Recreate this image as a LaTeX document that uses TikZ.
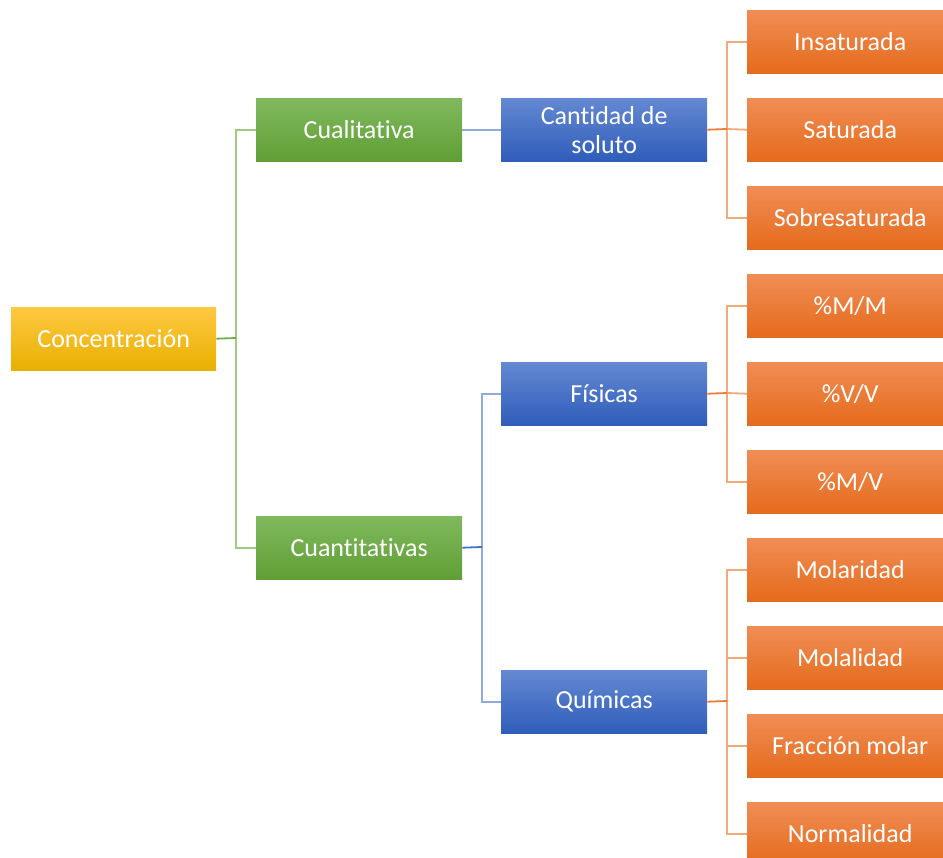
\documentclass[tikz,border=0pt]{standalone}
\usepackage{fontspec}
\setmainfont{Carlito}[Ligatures={NoCommon}]
\definecolor{goldT}{HTML}{FFC843}
\definecolor{goldB}{HTML}{E8B000}
\definecolor{greenT}{HTML}{80B95E}
\definecolor{greenB}{HTML}{609F35}
\definecolor{blueT}{HTML}{6489D2}
\definecolor{blueB}{HTML}{2F5DBA}
\definecolor{orT}{HTML}{F08D55}
\definecolor{orB}{HTML}{E56B1C}
\definecolor{greenL}{HTML}{70AD47}
\definecolor{greenLL}{HTML}{9DCB80}
\definecolor{blueL}{HTML}{4472C4}
\definecolor{blueLL}{HTML}{8FAADC}
\definecolor{orL}{HTML}{ED7D31}
\definecolor{orLL}{HTML}{F4A97A}
\tikzset{
  box/.style={minimum width=206pt, minimum height=63pt, inner sep=2pt, text=white,
    font=\fontsize{26}{29}\selectfont, align=center, anchor=north west},
  goldbox/.style={box, top color=goldT, bottom color=goldB},
  greenbox/.style={box, top color=greenT, bottom color=greenB},
  bluebox/.style={box, top color=blueT, bottom color=blueB},
  orbox/.style={box, top color=orT, bottom color=orB, minimum width=206pt},
  conn/.style={line width=1.8pt},
}
\begin{document}
\begin{tikzpicture}[x=1pt,y=-1pt]
\useasboundingbox (0,0) rectangle (943,858);
\begin{scope}
\clip (0,0) rectangle (943,858);
% nodes
\node[goldbox, minimum width=205pt] (conc) at (11,307) {Concentración};
\node[greenbox] (cual) at (256,98) {Cualitativa};
\node[greenbox] (cuan) at (256,516) {Cuantitativas};
\node[bluebox] (cant) at (501,98) {Cantidad de\\soluto};
\node[bluebox] (fis) at (501,362) {Físicas};
\node[bluebox] (qui) at (501,670) {Químicas};
\node[orbox] (ins) at (747,10) {Insaturada};
\node[orbox] (sat) at (747,98) {Saturada};
\node[orbox] (sob) at (747,186) {Sobresaturada};
\node[orbox] (mm) at (747,274) {\%M/M};
\node[orbox] (vv) at (747,362) {\%V/V};
\node[orbox] (mv) at (747,450) {\%M/V};
\node[orbox] (mol) at (747,538) {Molaridad};
\node[orbox] (mll) at (747,626) {Molalidad};
\node[orbox] (fra) at (747,714) {Fracción molar};
\node[orbox] (nor) at (747,802) {Normalidad};
\end{scope}
% connectors
\coordinate (b1) at (236,338);
\coordinate (b2) at (482,547);
\coordinate (b3) at (727,129);
\coordinate (b4) at (727,393);
\coordinate (b5) at (727,701);
\draw[conn, greenLL] (cual.west) -| (b1) |- (cuan.west);
\draw[conn, greenL] (conc.east) -- (b1);
\draw[conn, blueLL] (cual.east) -- (cant.west);
\draw[conn, blueLL] (fis.west) -| (b2) |- (qui.west);
\draw[conn, blueL] (cuan.east) -- (b2);
\draw[conn, orLL] (ins.west) -| (b3) |- (sob.west);
\draw[conn, orLL] (b3) -- (sat.west);
\draw[conn, orL] (cant.east) -- (b3);
\draw[conn, orLL] (mm.west) -| (b4) |- (mv.west);
\draw[conn, orLL] (b4) -- (vv.west);
\draw[conn, orL] (fis.east) -- (b4);
\draw[conn, orLL] (mol.west) -| (b5) |- (nor.west);
\draw[conn, orLL] (b5) |- (mll.west);
\draw[conn, orLL] (b5) |- (fra.west);
\draw[conn, orL] (qui.east) -- (b5);
\end{tikzpicture}
\end{document}
